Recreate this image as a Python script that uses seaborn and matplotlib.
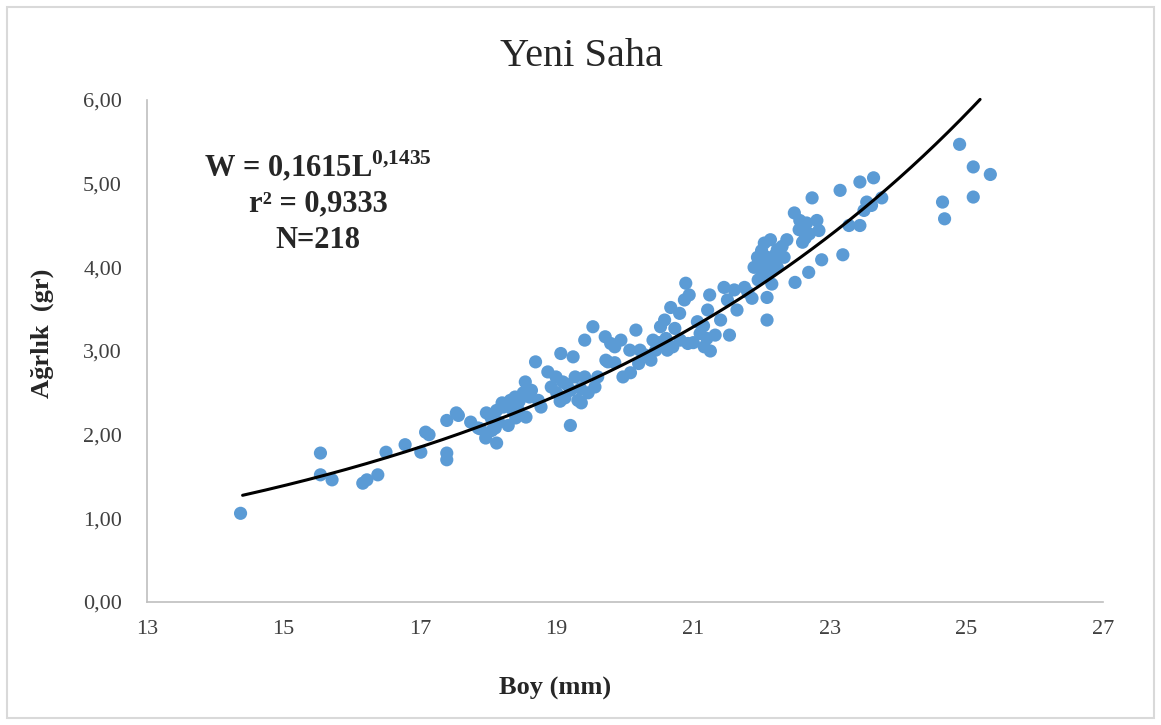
import numpy as np
import pandas as pd
import matplotlib
matplotlib.use("Agg")
import matplotlib.pyplot as plt
import seaborn as sns
from matplotlib.patches import Rectangle

# ---- data ----
boy = [14.37, 15.54, 15.54, 15.71, 16.16, 16.22, 16.38, 16.50, 16.78, 17.01,
       17.08, 17.13, 17.39, 17.39, 17.39, 17.53, 17.56, 17.74, 17.85, 17.88,
       17.96, 17.97, 18.04, 18.12, 18.10, 18.12, 18.22, 18.29, 18.32, 18.39,
       18.44, 18.51, 18.54, 18.55, 18.63, 18.69, 18.73, 18.77, 18.87, 18.92,
       18.99, 19.06, 19.09, 19.12, 19.20, 19.20, 19.24, 19.27, 19.31, 19.36,
       19.41, 19.41, 19.46, 19.53, 19.56, 19.60, 19.71, 19.72, 19.75, 19.79,
       19.85, 19.85, 19.94, 19.97, 20.07, 20.08, 20.16, 20.22, 20.38, 20.41,
       20.45, 20.52, 20.58, 20.62, 20.67, 20.73, 20.80, 20.81, 20.87, 20.89,
       20.92, 20.94, 21.06, 21.10, 21.16, 21.21, 21.24, 21.32, 21.40, 21.45,
       21.50, 21.53, 21.60, 21.64, 21.75, 21.86, 21.89, 21.94, 21.98, 22.04,
       22.04, 22.08, 22.08, 22.08, 22.08, 22.13, 22.13, 22.18, 22.23, 22.23,
       22.33, 22.37, 22.48, 22.49, 22.56, 22.64, 22.66, 22.69, 22.74, 22.81,
       22.84, 22.88, 23.15, 23.19, 23.28, 23.44, 23.44, 23.50, 23.54, 23.61,
       23.64, 23.76, 24.65, 24.68, 24.90, 25.10, 25.10, 25.35,
       18.20, 18.35, 18.45, 18.60, 18.40, 18.15, 18.05, 19.00, 19.15, 19.35,
       19.05, 20.30, 20.50, 20.60, 20.70, 20.20, 21.00, 21.20, 21.25, 21.15,
       21.80, 21.95, 22.00, 22.10, 22.20, 22.00, 22.30, 22.15, 22.55, 22.70,
       22.60]
agirlik = [1.06, 1.78, 1.52, 1.46, 1.42, 1.46, 1.52, 1.79, 1.88, 1.79,
           2.03, 2.00, 1.78, 1.70, 2.17, 2.26, 2.23, 2.15, 2.08, 2.07,
           1.96, 2.26, 2.20, 1.90, 2.08, 2.29, 2.33, 2.11, 2.41, 2.45,
           2.29, 2.50, 2.63, 2.21, 2.53, 2.87, 2.41, 2.33, 2.75, 2.57,
           2.69, 2.97, 2.63, 2.44, 2.11, 2.53, 2.93, 2.69, 2.41, 2.38,
           3.13, 2.69, 2.50, 3.29, 2.57, 2.69, 3.17, 2.89, 2.87, 3.09,
           2.86, 3.05, 3.13, 2.69, 3.01, 2.74, 3.25, 3.01, 2.89, 3.13,
           3.01, 3.29, 3.37, 3.01, 3.52, 3.27, 3.45, 3.13, 3.61, 3.81,
           3.09, 3.67, 3.35, 3.21, 3.05, 3.49, 3.67, 3.19, 3.37, 3.76,
           3.61, 3.19, 3.73, 3.49, 3.76, 3.63, 4.00, 4.12, 4.09, 4.29,
           3.97, 3.64, 3.37, 4.12, 3.93, 3.97, 4.33, 4.09, 4.21, 4.00,
           4.12, 4.33, 4.65, 3.82, 4.56, 4.35, 4.53, 3.94, 4.83, 4.56,
           4.44, 4.09, 4.92, 4.15, 4.50, 5.02, 4.50, 4.68, 4.78, 4.74,
           5.07, 4.83, 4.78, 4.58, 5.47, 5.20, 4.84, 5.11,
           2.38, 2.30, 2.40, 2.45, 2.20, 2.15, 2.05, 2.50, 2.60, 2.55,
           2.40, 2.95, 3.10, 3.15, 3.05, 2.85, 3.10, 3.15, 3.00, 3.30,
           3.70, 3.85, 3.90, 4.05, 4.15, 4.20, 4.25, 3.80, 4.45, 4.40,
           4.30]

# exponential trendline coefficients (Excel-style trendline)
coef_a = 0.1615
coef_b = 0.1435
trend_range = [14.4, 25.2]

x_ticks = [13, 15, 17, 19, 21, 23, 25, 27]
y_ticks = [0, 1, 2, 3, 4, 5, 6]

title = "Yeni Saha"
xlabel = "Boy (mm)"
ylabel = "Ağrlık  (gr)"

# ---- styling ----
sns.set_theme(style="white")
plt.rcParams["font.family"] = ["Liberation Serif", "DejaVu Serif"]
plt.rcParams["mathtext.fontset"] = "custom"
plt.rcParams["mathtext.rm"] = "Liberation Serif"
plt.rcParams["mathtext.bf"] = "Liberation Serif:bold"

df = pd.DataFrame({"Boy": boy, "Agirlik": agirlik})

fig = plt.figure(figsize=(11.61, 7.25), dpi=100)
ax = fig.add_axes([147 / 1161, 1 - 602 / 725, (1103 - 147) / 1161, (602 - 100) / 725])

sns.scatterplot(data=df, x="Boy", y="Agirlik", ax=ax, color="#5B9BD5",
                s=90, edgecolor="none", linewidth=0, zorder=2)

xs = np.linspace(trend_range[0], trend_range[1], 300)
trend = pd.DataFrame({"x": xs, "y": coef_a * np.exp(coef_b * xs)})
sns.lineplot(data=trend, x="x", y="y", ax=ax, color="black", linewidth=2.2,
             zorder=3, estimator=None, sort=False, clip_on=False)

ax.set_xlim(13, 27)
ax.set_ylim(0, 6)
ax.set_xticks(x_ticks)
ax.set_yticks(y_ticks)
ax.set_xticklabels([str(t) for t in x_ticks])
ax.set_yticklabels([f"{t:.2f}".replace(".", ",") for t in y_ticks])
ax.tick_params(axis="both", length=0, labelsize=16, colors="#404040")
ax.tick_params(axis="y", pad=18)
ax.tick_params(axis="x", pad=13)

for s in ["top", "right"]:
    ax.spines[s].set_visible(False)
for s in ["left", "bottom"]:
    ax.spines[s].set_color("#BFBFBF")
    ax.spines[s].set_linewidth(1.2)

ax.set_xlabel(xlabel, fontsize=19, fontweight="bold")
ax.set_ylabel(ylabel, fontsize=19, fontweight="bold")
ax.xaxis.set_label_coords((555 - 147) / 956, -(688 - 602) / 502)
ax.yaxis.set_label_coords((42 - 147) / 956, (602 - 333) / 502)
ax.xaxis.label.set_va("center")
ax.yaxis.label.set_va("center")
ax.grid(False)

fig.text(581 / 1161, 1 - 57 / 725, title, ha="center", va="center", fontsize=29)

ann_x = 318 / 1161
ax.text(ann_x, 1 - 166 / 725, r"W = 0,1615L$^{\mathbf{0{,}1435}}$",
        transform=fig.transFigure, ha="center", va="center", fontsize=22,
        fontweight="bold")
ax.text(ann_x, 1 - 204 / 725, "r² = 0,9333",
        transform=fig.transFigure, ha="center", va="center", fontsize=22,
        fontweight="bold")
ax.text(ann_x, 1 - 240 / 725, "N=218",
        transform=fig.transFigure, ha="center", va="center", fontsize=22,
        fontweight="bold")

fig.patches.append(Rectangle((7 / 1161, 7 / 725), 1 - 14 / 1161, 1 - 14 / 725,
                             transform=fig.transFigure, fill=False,
                             edgecolor="#D9D9D9", linewidth=1.5))

fig.savefig("out.png", dpi=100)
